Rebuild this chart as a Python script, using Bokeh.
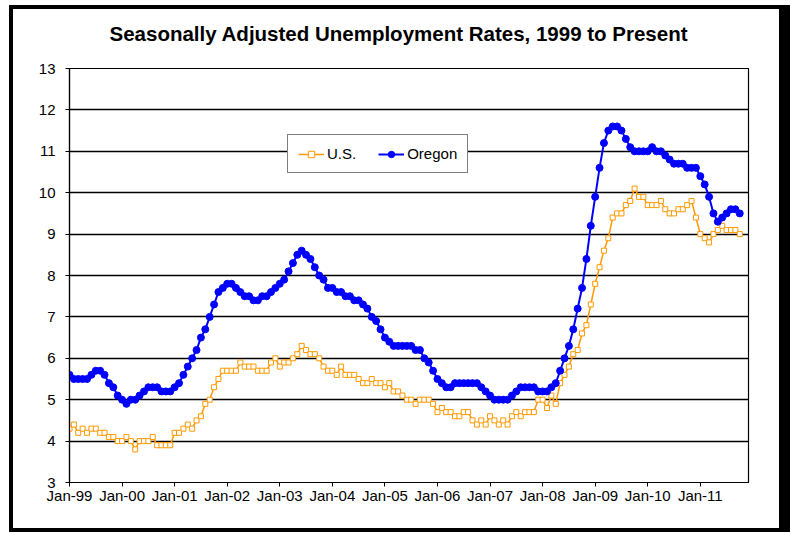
from bokeh.plotting import figure
from bokeh.models import (Range1d, FixedTicker, Legend, LegendItem, Title,
                          ColumnDataSource)
from bokeh.embed import file_html
from bokeh.resources import INLINE

years = ["99", "00", "01", "02", "03", "04", "05", "06", "07", "08", "09", "10", "11"]
month_names = ["Jan", "Feb", "Mar", "Apr", "May", "Jun",
               "Jul", "Aug", "Sep", "Oct", "Nov", "Dec"]

us = [
    4.3, 4.4, 4.2, 4.3, 4.2, 4.3, 4.3, 4.2, 4.2, 4.1, 4.1, 4.0,   # 1999
    4.0, 4.1, 4.0, 3.8, 4.0, 4.0, 4.0, 4.1, 3.9, 3.9, 3.9, 3.9,   # 2000
    4.2, 4.2, 4.3, 4.4, 4.3, 4.5, 4.6, 4.9, 5.0, 5.3, 5.5, 5.7,   # 2001
    5.7, 5.7, 5.7, 5.9, 5.8, 5.8, 5.8, 5.7, 5.7, 5.7, 5.9, 6.0,   # 2002
    5.8, 5.9, 5.9, 6.0, 6.1, 6.3, 6.2, 6.1, 6.1, 6.0, 5.8, 5.7,   # 2003
    5.7, 5.6, 5.8, 5.6, 5.6, 5.6, 5.5, 5.4, 5.4, 5.5, 5.4, 5.4,   # 2004
    5.3, 5.4, 5.2, 5.2, 5.1, 5.0, 5.0, 4.9, 5.0, 5.0, 5.0, 4.9,   # 2005
    4.7, 4.8, 4.7, 4.7, 4.6, 4.6, 4.7, 4.7, 4.5, 4.4, 4.5, 4.4,   # 2006
    4.6, 4.5, 4.4, 4.5, 4.4, 4.6, 4.7, 4.6, 4.7, 4.7, 4.7, 5.0,   # 2007
    5.0, 4.8, 5.1, 4.9, 5.4, 5.6, 5.8, 6.1, 6.2, 6.6, 6.8, 7.3,   # 2008
    7.8, 8.2, 8.6, 8.9, 9.4, 9.5, 9.5, 9.7, 9.8, 10.1, 9.9, 9.9,  # 2009
    9.7, 9.7, 9.7, 9.8, 9.6, 9.5, 9.5, 9.6, 9.6, 9.7, 9.8, 9.4,   # 2010
    9.0, 8.9, 8.8, 9.0, 9.1, 9.2, 9.1, 9.1, 9.1, 9.0,             # 2011
]

oregon = [
    5.6, 5.5, 5.5, 5.5, 5.5, 5.6, 5.7, 5.7, 5.6, 5.4, 5.3, 5.1,   # 1999
    5.0, 4.9, 5.0, 5.0, 5.1, 5.2, 5.3, 5.3, 5.3, 5.2, 5.2, 5.2,   # 2000
    5.3, 5.4, 5.6, 5.8, 6.0, 6.2, 6.5, 6.7, 7.0, 7.3, 7.6, 7.7,   # 2001
    7.8, 7.8, 7.7, 7.6, 7.5, 7.5, 7.4, 7.4, 7.5, 7.5, 7.6, 7.7,   # 2002
    7.8, 7.9, 8.1, 8.3, 8.5, 8.6, 8.5, 8.4, 8.2, 8.0, 7.9, 7.7,   # 2003
    7.7, 7.6, 7.6, 7.5, 7.5, 7.4, 7.4, 7.3, 7.2, 7.0, 6.9, 6.7,   # 2004
    6.5, 6.4, 6.3, 6.3, 6.3, 6.3, 6.3, 6.2, 6.2, 6.0, 5.9, 5.7,   # 2005
    5.5, 5.4, 5.3, 5.3, 5.4, 5.4, 5.4, 5.4, 5.4, 5.4, 5.3, 5.2,   # 2006
    5.1, 5.0, 5.0, 5.0, 5.0, 5.1, 5.2, 5.3, 5.3, 5.3, 5.3, 5.2,   # 2007
    5.2, 5.2, 5.3, 5.4, 5.7, 6.0, 6.3, 6.7, 7.2, 7.7, 8.4, 9.2,   # 2008
    9.9, 10.6, 11.2, 11.5, 11.6, 11.6, 11.5, 11.3, 11.1, 11.0, 11.0, 11.0,  # 2009
    11.0, 11.1, 11.0, 11.0, 10.9, 10.8, 10.7, 10.7, 10.7, 10.6, 10.6, 10.6, # 2010
    10.4, 10.2, 9.9, 9.5, 9.3, 9.4, 9.5, 9.6, 9.6, 9.5,          # 2011
]

months = [f"{m}-{y}" for y in years for m in month_names][:len(us)]
x_idx = list(range(len(months)))
jan_ticks = [i for i, m in enumerate(months) if m.startswith("Jan")]
y_ticks = list(range(3, 14))

ORANGE = "#FF9900"
BLUE = "#0000FF"
FONT = "Liberation Sans"

src = ColumnDataSource(dict(x=x_idx, month=months, us=us, oregon=oregon))

# Bokeh sizes the canvas from the border box (766+15 x 519+8), so the right and
# bottom minimum borders include the CSS border widths.
p = figure(width=766, height=519, output_backend="svg", toolbar_location=None,
           x_range=Range1d(0, 155), y_range=Range1d(3, 13),
           min_border_left=56, min_border_right=46, min_border_top=59,
           min_border_bottom=54)

# outer chart border (Excel chart area) via CSS on the root element
p.styles = {"border": "4px solid black", "border-right": "11px solid black",
            "box-sizing": "content-box", "margin-left": "9px", "margin-top": "5px"}

p.title.text = "Seasonally Adjusted Unemployment Rates, 1999 to Present"
p.title.text_font = FONT
p.title.text_font_size = "20.5px"
p.title.text_font_style = "bold"
p.title.align = "left"
p.title.offset = 40
p.title.text_color = "black"
p.title.standoff = 4
# empty spacer between title and plot area
p.add_layout(Title(text=" ", text_font_size="12px", standoff=6), "above")

p.background_fill_color = "white"
p.border_fill_color = "white"
p.outline_line_color = "black"
p.outline_line_width = 1.2

# axes
p.xaxis.ticker = FixedTicker(ticks=jan_ticks)
p.xaxis.major_label_overrides = {i: months[i] for i in jan_ticks}
p.yaxis.ticker = FixedTicker(ticks=y_ticks)
for ax in (p.xaxis, p.yaxis):
    ax.axis_line_color = "black"
    ax.axis_line_width = 1.2
    ax.major_tick_line_color = "black"
    ax.major_tick_in = 0
    ax.major_tick_out = 4
    ax.minor_tick_line_color = None
    ax.major_label_text_font = FONT
    ax.major_label_text_font_size = "15px"
    ax.major_label_text_color = "black"
p.xaxis.major_label_standoff = 0
p.yaxis.major_label_standoff = 10

p.xgrid.grid_line_color = None
p.ygrid.ticker = FixedTicker(ticks=y_ticks)
p.ygrid.grid_line_color = "black"
p.ygrid.grid_line_width = 1.3

# series
us_line = p.line("x", "us", source=src, line_color=ORANGE, line_width=1.5)
us_pts = p.scatter("x", "us", source=src, marker="square", size=5,
                   fill_color="white", line_color=ORANGE, line_width=1)
or_line = p.line("x", "oregon", source=src, line_color=BLUE, line_width=2)
or_pts = p.scatter("x", "oregon", source=src, marker="circle", size=7,
                   fill_color=BLUE, line_color=BLUE)

legend = Legend(items=[LegendItem(label="U.S.", renderers=[us_line, us_pts]),
                       LegendItem(label="Oregon", renderers=[or_line, or_pts])],
                orientation="horizontal", location=(218, 309))
legend.label_text_font = FONT
legend.label_text_font_size = "15px"
legend.label_text_color = "black"
legend.border_line_color = "black"
legend.border_line_width = 1
legend.background_fill_color = "white"
legend.background_fill_alpha = 1
legend.padding = 10
legend.spacing = 22
legend.margin = 0
legend.glyph_width = 26
legend.glyph_height = 16
legend.label_standoff = 3
p.add_layout(legend, "center")

open("out.html", "w").write(file_html(p, INLINE))
